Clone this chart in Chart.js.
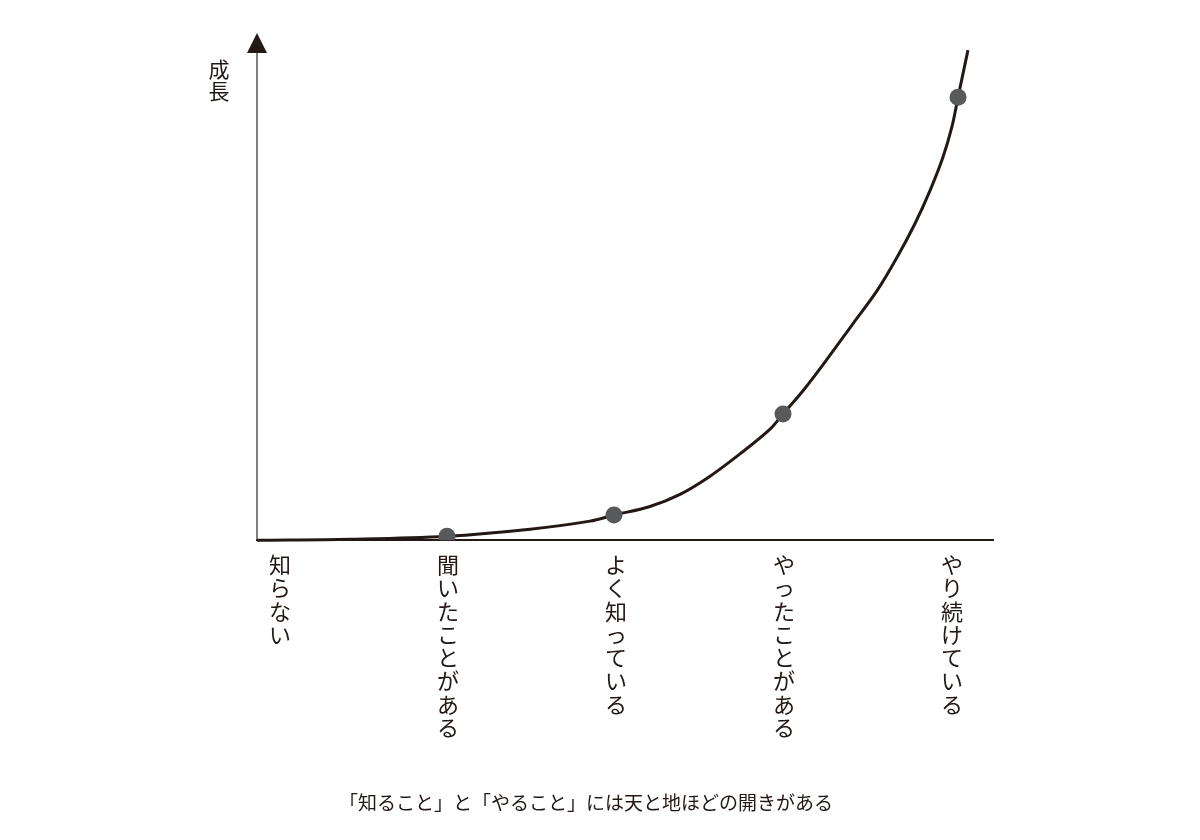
<!DOCTYPE html>
<html>
<head>
<meta charset="utf-8">
<script src="https://cdn.jsdelivr.net/npm/chart.js@4.4.0/dist/chart.umd.min.js"></script>
<style>
  html, body { margin: 0; padding: 0; background: #fff; }
  #wrap { width: 1200px; height: 840px; }
</style>
</head>
<body>
<div id="wrap"><canvas id="mychart" width="1200" height="840"></canvas></div>
<script>
// stages on the x axis (index 0..4)
var stages = ["知らない", "聞いたことがある", "よく知っている", "やったことがある", "やり続けている"]
var stageTicks = [0, 1, 2, 3, 4]

// growth curve (x in stage units, y 0..100)
var curveX = [-0.137, 0.417, 0.994, 1.488, 1.845, 1.988, 2.202, 2.381, 2.56, 2.738, 2.917, 2.994,
              3.113, 3.262, 3.411, 3.554, 3.673, 3.78, 3.869, 3.946, 4.0, 4.036, 4.095]
var curveY = [0, 0.2, 0.8, 2.2, 3.8, 5.0, 6.7, 9.1, 12.7, 17.1, 22.0, 25.0,
              29.6, 36.1, 42.9, 49.4, 56.0, 62.7, 69.2, 75.8, 81.9, 87.7, 97.0]

// the four marked dots
var dotX = [0.994, 1.988, 2.994, 4.036]
var dotY = [0.8, 5.0, 25.0, 87.7]

var yLabel = "成長"
var caption = "「知ること」と「やること」には天と地ほどの開きがある"

var FONT = '"Noto Sans CJK JP", "Noto Sans", sans-serif'
var INK = "#231815"

var curvePts = curveX.map(function(x, i){ return {x: x, y: curveY[i]} })
var dotPts = dotX.map(function(x, i){ return {x: x, y: dotY[i]} })

// y axis with arrow, the vertical 成長 label and the caption
var extras = {
    id: "extras",
    afterDraw: function(chart){
        var ctx = chart.ctx
        var a = chart.chartArea
        var x0 = a.left
        ctx.save()
        ctx.strokeStyle = "#3e3a39"
        ctx.lineWidth = 1.3
        ctx.beginPath()
        ctx.moveTo(x0, a.bottom)
        ctx.lineTo(x0, a.top + 16)
        ctx.stroke()
        ctx.fillStyle = INK
        ctx.beginPath()
        ctx.moveTo(x0, a.top - 2)
        ctx.lineTo(x0 - 10, a.top + 18)
        ctx.lineTo(x0 + 10, a.top + 18)
        ctx.closePath()
        ctx.fill()

        ctx.font = "21px " + FONT
        ctx.textAlign = "center"
        ctx.textBaseline = "middle"
        var chars = yLabel.split("")
        chars.forEach(function(c, i){
            ctx.fillText(c, 219, 69 + i * 22)
        })

        ctx.font = "19px " + FONT
        ctx.fillText(caption, 586, 803)
        ctx.restore()
    }
}

var myChart = document.getElementById("mychart").getContext("2d")

var chart = new Chart(myChart, {
    type: "line",
    data: {
        datasets: [
            {
                label: "dots",
                data: dotPts,
                showLine: false,
                pointRadius: 8.5,
                pointBackgroundColor: "#58595b",
                pointBorderWidth: 0
            },
            {
                label: "curve",
                data: curvePts,
                borderColor: INK,
                borderWidth: 3,
                pointRadius: 0,
                tension: 0.35,
                fill: false,
                clip: false
            }
        ]
    },
    options: {
        responsive: false,
        animation: false,
        layout: { padding: { left: 257, right: 207, top: 35, bottom: 88 } },
        plugins: {
            legend: { display: false },
            tooltip: { enabled: false }
        },
        scales: {
            x: {
                type: "linear",
                min: -0.137,
                max: 4.244,
                afterBuildTicks: function(scale){
                    scale.ticks = stageTicks.map(function(v){ return {value: v} })
                },
                grid: { display: false, drawTicks: false },
                border: { display: true, color: INK, width: 2 },
                ticks: {
                    autoSkip: false,
                    maxRotation: 0,
                    padding: 13,
                    color: INK,
                    font: { family: FONT, size: 22, lineHeight: 1.055 },
                    callback: function(v){
                        var s = stages[Math.round(v)]
                        return s ? s.split("") : ""
                    }
                }
            },
            y: {
                display: false,
                min: 0,
                max: 100
            }
        }
    },
    plugins: [extras]
})
</script>
</body>
</html>
